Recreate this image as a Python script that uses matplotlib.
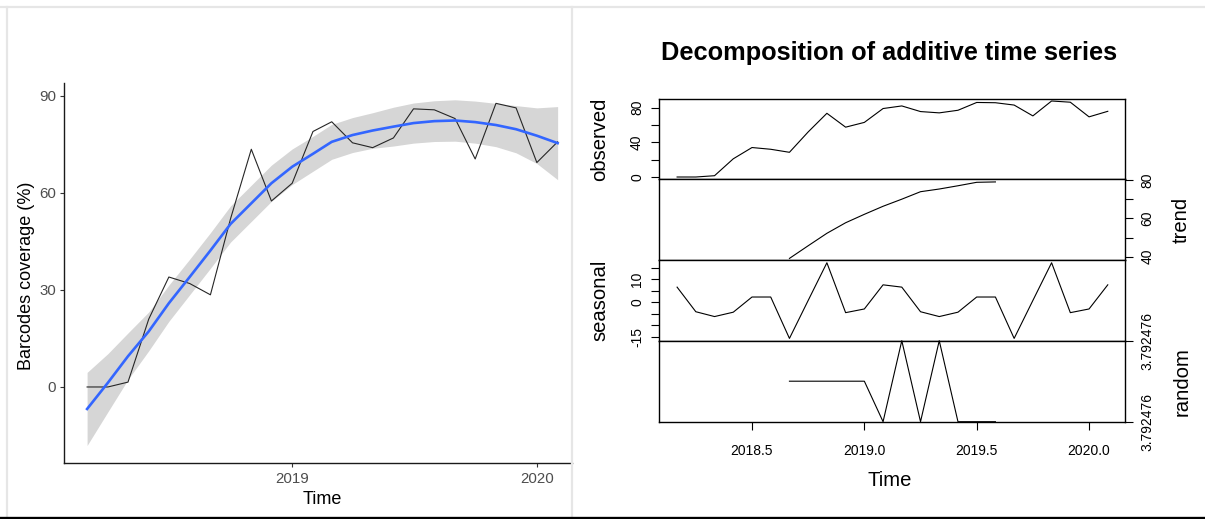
import numpy as np
import pandas as pd
import matplotlib
matplotlib.use("Agg")
import matplotlib.pyplot as plt
import matplotlib.dates as mdates
from matplotlib.lines import Line2D

plt.rcParams["font.family"] = ["Liberation Sans", "DejaVu Sans"]

# ---------------------------------------------------------------- data
months = pd.date_range("2018-03-01", periods=24, freq="MS")
coverage = [0, 0, 1.5, 21, 34, 32, 28.5, 52, 73.5, 57.5, 63, 79,
            82, 75.5, 74, 77, 86, 85.7, 83, 70.5, 87.7, 86.3, 69.4, 75.8]

# loess fit and 95% band half-width at each month
smooth_fit = [-6.8, 1.3, 9.5, 17.2, 25.9, 34.0, 42.2, 50.4, 56.8, 63.0, 68.1, 72.1,
              75.8, 77.9, 79.3, 80.5, 81.6, 82.2, 82.4, 81.9, 81.0, 79.7, 77.7, 75.4]
smooth_halfwidth = [11.3, 9.0, 7.2, 6.0, 5.6, 5.5, 5.5, 5.6, 5.6, 5.6, 5.5, 5.4,
                    5.4, 5.4, 5.5, 6.0, 6.2, 6.3, 6.4, 6.5, 6.7, 7.3, 8.6, 11.3]

# monthly ts: start 2018 (3), frequency 12
ts_start, ts_freq = 2018 + 2 / 12, 12
trend_first = 6                       # trend defined Sep 2018 .. Aug 2019
trend = [39.1, 45.7, 52.2, 57.7, 62.1, 66.3, 70.0, 73.9, 75.3, 77.0, 78.8, 79.0]
seasonal_figure = [6.6, -4.1, -6.2, -4.3, 2.3, 2.3, -15.7, 0.8, 17.2, -4.5, -2.9, 7.6]
random_level = 3.792476
random_ulps = [0, 0, 0, 0, 0, -1, 1, -1, 1, -1, -1, -1]   # offsets in floating-point steps

# ---------------------------------------------------------------- figure
W, H = 1205, 519
fig = plt.figure(figsize=(W / 100, H / 100), dpi=100)
fig.patch.set_facecolor("white")


def fx(x):
    return x / W


def fy(y):
    return 1 - y / H


def px_axes(x0, y0, x1, y1):
    return fig.add_axes([fx(x0), fy(y1), (x1 - x0) / W, (y1 - y0) / H])


# frame lines around the two panels
frame_grey = "#e6e6e6"
fig.add_artist(Line2D([0, 1], [fy(6.5), fy(6.5)], color=frame_grey, lw=1.6))
fig.add_artist(Line2D([fx(7.5), fx(7.5)], [fy(6.5), fy(516)], color=frame_grey, lw=1.6))
fig.add_artist(Line2D([fx(572), fx(572)], [fy(6.5), fy(516)], color=frame_grey, lw=1.6))
fig.add_artist(Line2D([0, 1], [fy(517.5), fy(517.5)], color="black", lw=2.4))

# ---------------------------------------------------------------- left: coverage with loess smooth
ax = px_axes(64.3, 83.3, 571.7, 463.3)
t = mdates.date2num(months.to_pydatetime())
fit = np.array(smooth_fit)
hw = np.array(smooth_halfwidth)
ax.fill_between(t, fit - hw, fit + hw, color="#d6d6d6", lw=0, zorder=1)
ax.plot(t, coverage, color="#262626", lw=0.8, zorder=2)
ax.plot(t, fit, color="#3366ff", lw=1.9, zorder=3)
ax.set_xlim(mdates.date2num(pd.Timestamp("2018-01-26")),
            mdates.date2num(pd.Timestamp("2020-02-22")))
ax.set_ylim(-23.6, 93.9)
ax.set_yticks([0, 30, 60, 90])
ax.set_xticks(mdates.date2num([pd.Timestamp("2019-01-01"), pd.Timestamp("2020-01-01")]))
ax.set_xticklabels(["2019", "2020"])
for s in ("top", "right"):
    ax.spines[s].set_visible(False)
for s in ("left", "bottom"):
    ax.spines[s].set_linewidth(1.0)
    ax.spines[s].set_color("#1a1a1a")
ax.tick_params(length=3, width=0.8, color="#333333", labelsize=10.8,
               labelcolor="#4d4d4d", pad=3)
fig.text(fx(27), fy(276), "Barcodes coverage (%)", rotation=90, ha="center",
         va="center", fontsize=13, color="black")
fig.text(fx(322), fy(500), "Time", ha="center", va="center", fontsize=13, color="black")

# ---------------------------------------------------------------- right: decomposition
n = len(coverage)
tt = ts_start + np.arange(n) / ts_freq
t_trend = tt[trend_first:trend_first + len(trend)]
seasonal = np.tile(seasonal_figure, n // ts_freq)

xl = (2018.0875, 2020.16)
bounds = [99, 179.3, 260, 340.7, 421.7]
axes = [px_axes(659.3, bounds[i], 1125, bounds[i + 1]) for i in range(4)]
a_obs, a_tr, a_se, a_ra = axes

a_obs.plot(tt, coverage, color="black", lw=0.8)
a_obs.set_ylim(-2.65, 90.0)
a_obs.set_yticks([0, 20, 40, 60, 80])
a_obs.set_yticklabels(["0", "", "40", "", "80"])

a_tr.plot(t_trend, trend, color="black", lw=0.8)
a_tr.set_ylim(38.27, 80.37)
a_tr.set_yticks([40, 50, 60, 70, 80])
a_tr.set_yticklabels(["40", "", "60", "", "80"])
a_tr.yaxis.tick_right()

a_se.plot(tt, seasonal, color="black", lw=0.8)
a_se.set_ylim(-16.7, 18.4)
a_se.set_yticks([-15, -10, -5, 0, 5, 10, 15])
a_se.set_yticklabels(["-15", "", "", "0", "", "10", ""])

a_ra.plot(t_trend, random_ulps, color="black", lw=0.8, clip_on=False)
a_ra.set_ylim(-1, 1)
a_ra.set_yticks([-1, 1])
a_ra.set_yticklabels([f"{random_level:.6f}"] * 2)
a_ra.yaxis.tick_right()

for a in axes:
    a.set_xlim(*xl)
    for s in a.spines.values():
        s.set_linewidth(1.0)
        s.set_color("black")
    a.tick_params(axis="y", length=6, width=0.8, labelsize=10, pad=5, labelrotation=90)
    for lbl in a.get_yticklabels():
        lbl.set_va("center")
    if a is a_ra:
        a.set_xticks([2018.5, 2019.0, 2019.5, 2020.0])
        a.set_xticklabels(["2018.5", "2019.0", "2019.5", "2020.0"])
        a.tick_params(axis="x", length=6, width=0.8, labelsize=10, pad=10)
    else:
        a.set_xticks([])

fig.text(fx(889), fy(53), "Decomposition of additive time series", ha="center",
         va="center", fontsize=18.3, fontweight="bold")
fig.text(fx(889.5), fy(480), "Time", ha="center", va="center", fontsize=14.6)
for label, xc, yc in [("observed", 600, 139), ("trend", 1181.7, 219.7),
                      ("seasonal", 600, 300.3), ("random", 1181.7, 381.2)]:
    fig.text(fx(xc), fy(yc), label, rotation=90, ha="center", va="center", fontsize=14.6)

fig.savefig("out.png", dpi=100, facecolor="white")
